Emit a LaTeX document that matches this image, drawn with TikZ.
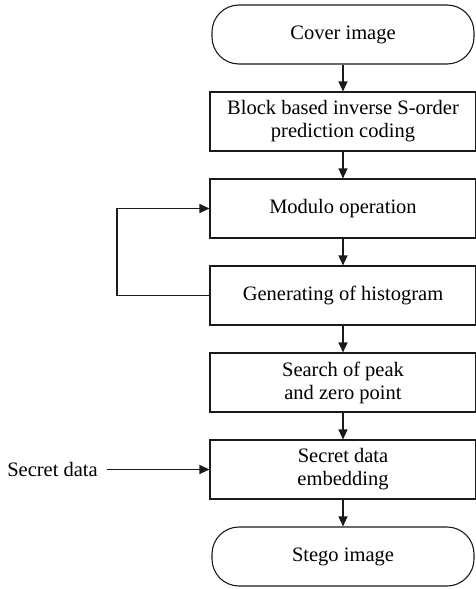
\documentclass[tikz,border=0pt]{standalone}
\usepackage{fontspec}
\setmainfont{Liberation Serif}
\usepackage{tikz}
\usetikzlibrary{arrows.meta}
\definecolor{flowInk}{HTML}{1A1A1A}

\begin{document}
\begin{tikzpicture}[x=1pt, y=-1pt, font=\fontsize{20.5}{23}\selectfont,
    proc/.style={draw=flowInk, line width=1.1pt, minimum width=266pt, minimum height=59pt, align=center, inner sep=2pt},
    term/.style={proc, minimum width=262pt, rounded corners=27pt},
    flow/.style={draw=flowInk, line width=1.1pt, -{Triangle[length=10pt, width=9pt]}}]
        % Marco
        \useasboundingbox (0,0) rectangle (475,589);
        % Cajas del proceso
        \node[term] (cover) at (343,34.5) {Cover image};
        \node[proc] (block) at (343,121.5) {Block based inverse S-order\\prediction coding};
        \node[proc] (modulo) at (343,208.5) {Modulo operation};
        \node[proc] (hist) at (343,295.5) {Generating of histogram};
        \node[proc] (search) at (343,382.5) {Search of peak\\and zero point};
        \node[proc] (embed) at (343,469.5) {Secret data\\embedding};
        \node[term] (stego) at (343,556.5) {Stego image};
        % Entrada lateral
        \node (secret) at (52.5,469.5) {Secret data};
        % Flechas verticales
        \draw[flow] (cover) -- (block);
        \draw[flow] (block) -- (modulo);
        \draw[flow] (modulo) -- (hist);
        \draw[flow] (hist) -- (search);
        \draw[flow] (search) -- (embed);
        \draw[flow] (embed) -- (stego);
        % Lazo de retorno
        \coordinate (loop) at (117,295.5);
        \draw[flow] (hist.west) -- (loop) |- (modulo.west);
        \draw[flow, shorten <=6pt] (secret.east) -- (embed.west);
      \end{tikzpicture}
\end{document}
